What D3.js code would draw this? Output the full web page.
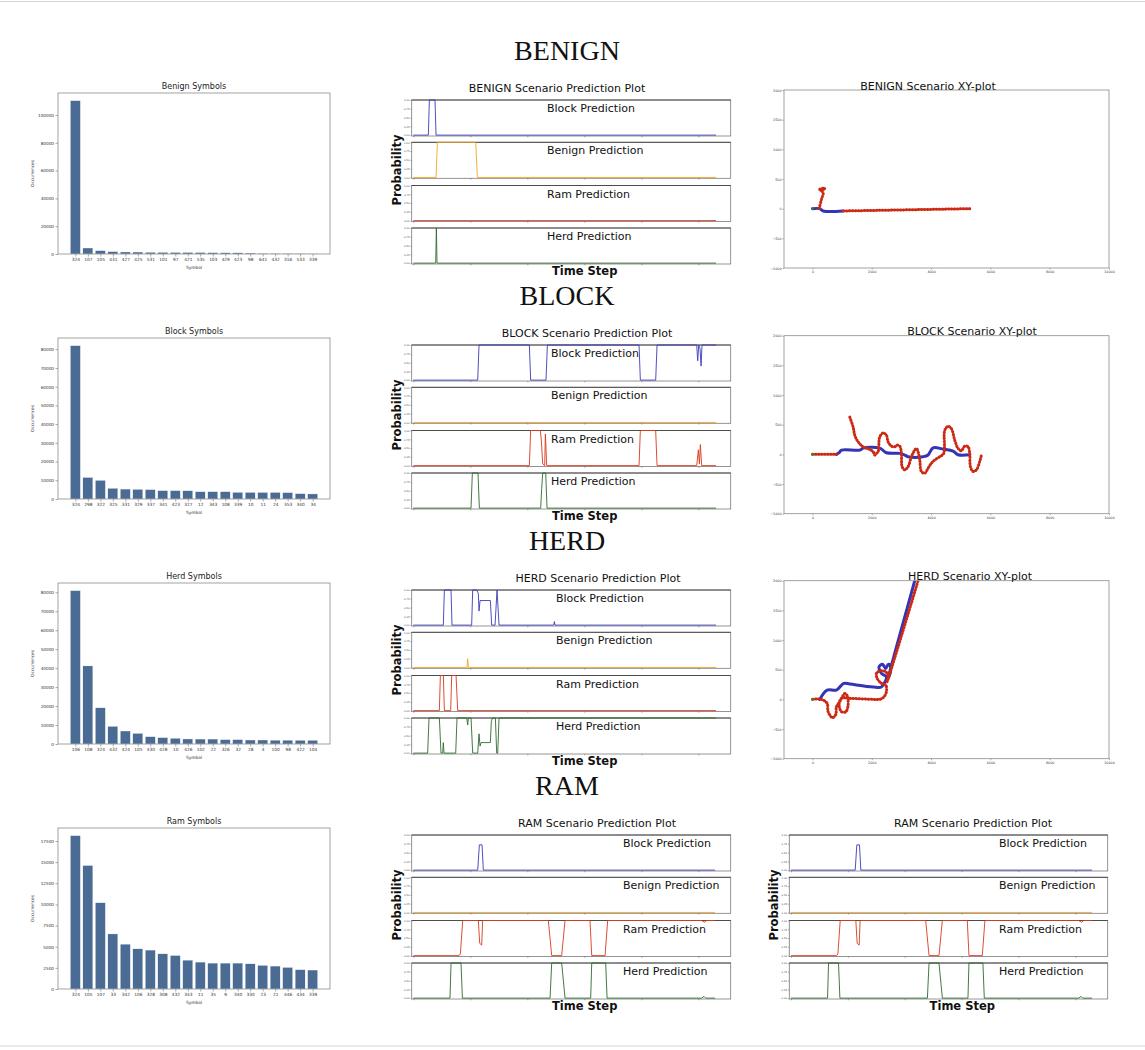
<!DOCTYPE html>
<html><head><meta charset="utf-8">
<script src="https://cdn.jsdelivr.net/npm/d3@7"></script>
<style>html,body{margin:0;padding:0;background:#fff;} svg{display:block;}</style>
</head><body><svg id="c" width="1145" height="1050"></svg>
<script>
// ---------------- DATA ----------------
const sectionTitles = ['BENIGN','BLOCK','HERD','RAM'];

const benignSymbols = ['324','107','105','431','427','425','531','101','97','421','535','103','429','423','98','641','432','316','533','339'];
const benignCounts  = [110300,4300,2400,1700,1450,1400,1200,1150,1100,1100,1050,950,900,850,700,400,350,300,250,200];
const benignTicks   = [0,20000,40000,60000,80000,100000];

const blockSymbols = ['324','298','322','325','331','329','337','341','423','327','12','343','108','339','10','11','24','353','340','34'];
const blockCounts  = [81900,11500,9950,5700,5300,5150,5000,4450,4450,4400,3900,3900,3900,3550,3500,3500,3500,3400,2850,2700];
const blockTicks   = [0,10000,20000,30000,40000,50000,60000,70000,80000];

const herdSymbols = ['106','108','324','432','424','105','430','428','10','426','102','22','326','32','28','4','100','98','422','104'];
const herdCounts  = [80900,41200,19100,9300,6850,5600,3850,3350,3000,2650,2600,2600,2300,2300,2100,2100,2000,2000,1950,1950];
const herdTicks   = [0,10000,20000,30000,40000,50000,60000,70000,80000];

const ramSymbols = ['324','105','107','33','342','106','328','308','432','343','11','35','9','340','330','23','21','446','434','339'];
const ramCounts  = [18130,14600,10200,6510,5300,4750,4600,4160,3960,3410,3180,3060,3060,3060,2980,2790,2710,2550,2280,2240];
const ramTicks   = [0,2500,5000,7500,10000,12500,15000,17500];

const predNames = ['Block Prediction','Benign Prediction','Ram Prediction','Herd Prediction'];
const probTicks = [0,0.25,0.5,0.75,1];
const timeTicks = [0,1000,2000,3000,4000,5000];

// [time step, probability]
const benignPredBlock  = [[0,0],[263,0],[281,1],[380,1],[398,0],[5310,0]];
const benignPredBenign = [[0,0],[398,0],[421,1],[1094,1],[1123,0],[5310,0]];
const benignPredRam    = [[0,0],[5310,0]];
const benignPredHerd   = [[0,0],[392,0],[404,1],[415,0],[5310,0]];

const blockPredBlock  = [[0,0],[1129,0],[1152,1],[2035,1],[2058,0],[2327,0],[2351,1],[3959,1],[3982,0],[4251,0],[4275,1],[4971,1],[4988,0.55],[5006,1],[5029,0.9],[5047,0.4],[5064,1],[5310,1]];
const blockPredBenign = [[0,0],[5310,0]];
const blockPredRam    = [[0,0],[2035,0],[2058,1],[2228,1],[2246,0.7],[2269,0.05],[2304,0],[2316,0.9],[2339,0],[3959,0],[3982,1],[4251,1],[4275,0],[4971,0],[5000,0.45],[5018,0.05],[5035,0.6],[5058,0],[5310,0]];
const blockPredHerd   = [[0,0],[1012,0],[1035,1],[1134,1],[1158,0],[2234,0],[2251,0.55],[2269,1],[2322,1],[2345,0],[5310,0]];

const herdPredBlock  = [[0,0],[526,0],[544,1],[661,1],[678,0],[1023,0],[1041,1],[1111,1],[1140,0.9],[1152,0.4],[1170,0.7],[1351,0.7],[1374,0],[1433,0],[1468,1],[1503,0],[2462,0],[2474,0.1],[2485,0],[5310,0]];
const herdPredBenign = [[0,0],[942,0],[953,0.25],[965,0],[5310,0]];
const herdPredRam    = [[0,0],[456,0],[474,1],[526,1],[544,0],[655,0],[673,1],[749,1],[778,0],[5310,0]];
const herdPredHerd   = [[0,0],[251,0],[275,1],[456,1],[485,0],[515,0],[526,0.3],[538,0],[743,0],[766,1],[936,1],[953,0.8],[965,1],[1012,1],[1041,0],[1129,0],[1152,0.55],[1170,0.2],[1187,0.3],[1351,0.3],[1368,0.9],[1386,1],[1439,1],[1462,0],[1480,0],[1503,1],[5310,1]];

const ramPredBlock  = [[0,0],[1129,0],[1158,0.72],[1205,0.72],[1228,0],[5292,0]];
const ramPredBenign = [[0,0],[5292,0]];
const ramPredRam    = [[0,0],[801,0],[825,0.05],[866,1],[1140,1],[1164,0.35],[1199,0.3],[1216,1],[2368,1],[2427,0],[2602,0],[2661,1],[3099,1],[3129,0],[3363,0],[3409,1],[5058,1],[5105,0.95],[5146,1],[5292,1]];
const ramPredHerd   = [[0,0],[643,0],[661,1],[836,1],[860,0],[2398,0],[2427,1],[2602,1],[2661,0],[3111,0],[3129,1],[3374,1],[3398,0],[5058,0],[5099,0.05],[5129,0],[5292,0]];

// XY trajectories [x, y]
const xyXTicks = [0,2000,4000,6000,8000,10000];
const xyYTicks = [-1000,-500,0,500,1000,1500,2000];

const benignXYBlue = [[0,0],[247,0],[360,-39],[1034,-39]];
const benignXYRedArm = [[225,0],[303,157],[360,270],[247,326],[416,343],[303,298]];
const benignXYRedTrack = [[1034,-39],[5337,0]];

const blockXYBlue = [[810,0],[900,30],[980,72],[1600,72],[1708,105],[2270,105],[2494,28],[2944,17],[3100,-10],[3225,-39],[3730,-39],[3899,-11],[4067,111],[4404,89],[4742,56],[4910,-6],[5303,-6]];
const blockXYRedStart = [[0,0],[810,0]];
const blockXYRedTrack = [[1258,628],[1371,461],[1427,322],[1539,211],[1708,128],[1933,83],[2045,44],[2101,-11],[2157,17],[2213,44],[2270,294],[2382,361],[2494,322],[2551,211],[2663,139],[2775,128],[2854,156],[2944,139],[3000,17],[3022,-206],[3112,-261],[3225,-206],[3337,-39],[3449,72],[3506,100],[3562,44],[3618,-94],[3674,-289],[3787,-317],[3899,-233],[4011,-150],[4124,-94],[4292,-39],[4427,17],[4461,406],[4573,472],[4685,433],[4798,239],[4910,100],[5022,61],[5135,139],[5247,128],[5303,17],[5326,-206],[5416,-289],[5528,-261],[5640,-122],[5697,-11]];

const herdXYBlue = [[247,0],[494,157],[809,157],[1056,270],[1258,258],[2045,208],[2326,208],[2449,298],[2494,382],[2326,438],[2247,551],[2360,590],[2472,522],[2551,590],[2607,579],[2629,466],[2551,354],[3449,2000],[3500,2100]];
const herdXYRed = [[0,0],[303,0],[494,-67],[528,-208],[674,-309],[787,-253],[809,-124],[921,-39],[1011,45],[1090,101],[1169,62],[1202,-96],[1124,-208],[978,-208],[899,-84],[978,17],[1258,17],[2045,0],[2270,0],[2404,39],[2494,129],[2472,242],[2326,270],[2180,354],[2157,438],[2270,478],[2472,466],[2551,382],[2517,298],[3562,2000],[3620,2100]];

// ---------------- DRAWING ----------------
const svg = d3.select('#c');
const FONT = 'DejaVu Sans, sans-serif';
const COL = {block:'#3b3bb8', benign:'#f0a52a', ram:'#d8391c', herd:'#2f6a2f'};
const BAR = '#4a6b93';

svg.append('rect').attr('width',1145).attr('height',1050).attr('fill','#fff');
svg.append('line').attr('x1',0).attr('x2',1145).attr('y1',1.5).attr('y2',1.5).attr('stroke','#d4d4d4').attr('stroke-width',1);
svg.append('line').attr('x1',0).attr('x2',1145).attr('y1',1046).attr('y2',1046).attr('stroke','#d4d4d4').attr('stroke-width',1);

sectionTitles.forEach((s,i)=>{
  svg.append('text').attr('x',567).attr('y',50+245*i).attr('text-anchor','middle')
    .attr('dominant-baseline','central').attr('font-family','Liberation Serif, serif')
    .attr('font-size',28).attr('fill','#111').text(s);
});

function styleAxis(a, fs){
  a.select('.domain').remove();
  a.selectAll('text').attr('font-size',fs).attr('font-family',FONT).attr('fill','#333');
  a.selectAll('line').attr('stroke','#555').attr('stroke-width',0.5);
}

function drawBarChart(top, title, labels, values, ticks){
  const L=58, R=330, T=top, B=top+161;
  const n = labels.length;
  const x = d3.scaleLinear().domain([-1.39, n-1+1.39]).range([L,R]);
  const y = d3.scaleLinear().domain([0, d3.max(values)*1.05]).range([B,T]);
  const g = svg.append('g');
  g.selectAll('rect.bar').data(values).join('rect').attr('class','bar')
    .attr('x',(d,i)=>x(i-0.4)).attr('width',(d,i)=>x(i+0.4)-x(i-0.4))
    .attr('y',d=>y(d)).attr('height',d=>B-y(d))
    .attr('fill',BAR).attr('stroke','#fff').attr('stroke-width',0.3);
  const ya = g.append('g').attr('transform',`translate(${L},0)`)
    .call(d3.axisLeft(y).tickValues(ticks).tickSize(2.5).tickPadding(1.5).tickFormat(d3.format('d')));
  styleAxis(ya,4.2);
  const xa = g.append('g').attr('transform',`translate(0,${B})`)
    .call(d3.axisBottom(x).tickValues(d3.range(n)).tickSize(2.5).tickPadding(1.2).tickFormat(i=>labels[i]));
  styleAxis(xa,4.3);
  g.append('rect').attr('x',L).attr('y',T).attr('width',R-L).attr('height',B-T)
    .attr('fill','none').attr('stroke','#8c8c8c').attr('stroke-width',0.8);
  g.append('text').attr('x',194).attr('y',T-7).attr('text-anchor','middle').attr('dominant-baseline','central')
    .attr('font-family',FONT).attr('font-size',8).attr('fill','#222').text(title);
  g.append('text').attr('transform',`translate(32,${(T+B)/2}) rotate(-90)`).attr('text-anchor','middle')
    .attr('dominant-baseline','central').attr('font-family',FONT).attr('font-size',4.3).attr('fill','#333').text('Occurrences');
  g.append('text').attr('x',194).attr('y',B+13).attr('text-anchor','middle').attr('dominant-baseline','central')
    .attr('font-family',FONT).attr('font-size',4.3).attr('fill','#333').text('Symbol');
}

drawBarChart(93,  'Benign Symbols', benignSymbols, benignCounts, benignTicks);
drawBarChart(338, 'Block Symbols',  blockSymbols,  blockCounts,  blockTicks);
drawBarChart(583, 'Herd Symbols',   herdSymbols,   herdCounts,   herdTicks);
drawBarChart(828, 'Ram Symbols',    ramSymbols,    ramCounts,    ramTicks);

function drawPred(L, R, base, title, titleX, labelX, series){
  const offs=[0,42.3,85.5,128], H=36;
  const x = d3.scaleLinear().domain([-29,5567]).range([L,R]);
  const colors=[COL.block,COL.benign,COL.ram,COL.herd];
  const g = svg.append('g');
  g.append('text').attr('x',titleX).attr('y',base-12).attr('text-anchor','middle').attr('dominant-baseline','central')
    .attr('font-family',FONT).attr('font-size',11).attr('fill','#111').text(title);
  series.forEach((data,k)=>{
    const T = base+offs[k], B = T+H;
    const y = d3.scaleLinear().domain([-0.025,1]).range([B,T]);
    g.append('rect').attr('x',L).attr('y',T).attr('width',R-L).attr('height',H)
      .attr('fill','#fff').attr('stroke','#7a7a7a').attr('stroke-width',0.8);
    g.append('line').attr('x1',L).attr('x2',R).attr('y1',T).attr('y2',T).attr('stroke','#444').attr('stroke-width',0.9);
    const ya = g.append('g').attr('transform',`translate(${L},0)`)
      .call(d3.axisLeft(y).tickValues(probTicks).tickSize(1.2).tickPadding(1).tickFormat(d3.format('.2f')));
    styleAxis(ya,2.5);
    const xa = g.append('g').attr('transform',`translate(0,${B})`)
      .call(d3.axisBottom(x).tickValues(timeTicks).tickSize(1.3).tickFormat(''));
    styleAxis(xa,2.5);
    g.append('path').datum(data)
      .attr('d', d3.line().x(d=>x(d[0])).y(d=>y(d[1])))
      .attr('fill','none').attr('stroke',colors[k]).attr('stroke-width',0.9).attr('stroke-linejoin','round');
    g.append('text').attr('x',labelX).attr('y',T+8.5).attr('dominant-baseline','central')
      .attr('font-family',FONT).attr('font-size',11).attr('fill','#111').text(predNames[k]);
  });
  g.append('text').attr('transform',`translate(${L-15},${base+70}) rotate(-90)`).attr('text-anchor','middle')
    .attr('dominant-baseline','central').attr('font-family',FONT).attr('font-weight','bold')
    .attr('font-size',11.5).attr('fill','#111').text('Probability');
  g.append('text').attr('x',L+173).attr('y',base+171).attr('text-anchor','middle').attr('dominant-baseline','central')
    .attr('font-family',FONT).attr('font-weight','bold').attr('font-size',11.5).attr('fill','#111').text('Time Step');
}

drawPred(411.7, 730.7, 100, 'BENIGN Scenario Prediction Plot', 557, 547, [benignPredBlock,benignPredBenign,benignPredRam,benignPredHerd]);
drawPred(411.7, 730.7, 345, 'BLOCK Scenario Prediction Plot', 587, 551, [blockPredBlock,blockPredBenign,blockPredRam,blockPredHerd]);
drawPred(411.7, 730.7, 590, 'HERD Scenario Prediction Plot', 598, 556, [herdPredBlock,herdPredBenign,herdPredRam,herdPredHerd]);
drawPred(411.7, 730.7, 835, 'RAM Scenario Prediction Plot', 597, 623, [ramPredBlock,ramPredBenign,ramPredRam,ramPredHerd]);
drawPred(789.3, 1107.7, 835, 'RAM Scenario Prediction Plot', 973, 999, [ramPredBlock,ramPredBenign,ramPredRam,ramPredHerd]);

let clipId = 0;
function drawXY(top, title, titleX, blueSegs, redSegs){
  const L=784, R=1109, T=top, B=top+178;
  const x = d3.scaleLinear().domain([-960,10000]).range([L,R]);
  const y = d3.scaleLinear().domain([-1000,2000]).range([B,T]);
  const g = svg.append('g');
  const id = 'clip'+(clipId++);
  g.append('clipPath').attr('id',id).append('rect').attr('x',L).attr('y',T).attr('width',R-L).attr('height',B-T);
  const ya = g.append('g').attr('transform',`translate(${L},0)`)
    .call(d3.axisLeft(y).tickValues(xyYTicks).tickSize(1.5).tickPadding(1).tickFormat(d3.format('d')));
  styleAxis(ya,3.3);
  const xa = g.append('g').attr('transform',`translate(0,${B})`)
    .call(d3.axisBottom(x).tickValues(xyXTicks).tickSize(1.5).tickPadding(1).tickFormat(d3.format('d')));
  styleAxis(xa,3.3);
  const line = d3.line().x(d=>x(d[0])).y(d=>y(d[1])).curve(d3.curveCatmullRom.alpha(0.5));
  const pg = g.append('g').attr('clip-path',`url(#${id})`);
  blueSegs.forEach(seg=>{
    pg.append('path').datum(seg).attr('d',line).attr('fill','none').attr('stroke','#3434b4')
      .attr('stroke-width',3).attr('stroke-linejoin','round').attr('stroke-linecap','round');
  });
  redSegs.forEach(seg=>{
    pg.append('path').datum(seg).attr('d',line).attr('fill','none').attr('stroke','#cc2a14')
      .attr('stroke-width',3).attr('stroke-linecap','round').attr('stroke-dasharray','0.6 2.4');
  });
  pg.append('circle').attr('cx',x(0)).attr('cy',y(0)).attr('r',1.3).attr('fill','#2a8a2a');
  g.append('rect').attr('x',L).attr('y',T).attr('width',R-L).attr('height',B-T)
    .attr('fill','none').attr('stroke','#8a8a8a').attr('stroke-width',0.8);
  g.append('text').attr('x',titleX).attr('y',T-4).attr('text-anchor','middle').attr('dominant-baseline','central')
    .attr('font-family',FONT).attr('font-size',11).attr('fill','#111').text(title);
}

drawXY(90,    'BENIGN Scenario XY-plot', 928, [benignXYBlue], [benignXYRedArm, benignXYRedTrack]);
drawXY(335.7, 'BLOCK Scenario XY-plot',  972, [blockXYBlue],  [blockXYRedStart, blockXYRedTrack]);
drawXY(580.7, 'HERD Scenario XY-plot',   970, [herdXYBlue],   [herdXYRed]);
</script></body></html>
